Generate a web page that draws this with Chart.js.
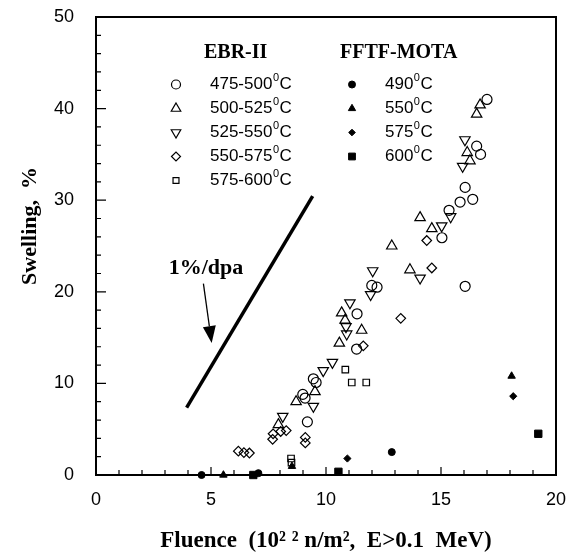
<!DOCTYPE html>
<html><head><meta charset="utf-8">
<script src="https://cdn.jsdelivr.net/npm/chart.js@4"></script>
<style>html,body{margin:0;padding:0;background:#fff}#wrap{width:577px;height:555px}</style>
</head><body><div id="wrap"><canvas id="c" width="577" height="555"></canvas></div>
<script>
// ---- data ----
const ebr475x = [17.0,16.55,16.72,16.05,15.83,16.38,15.35,15.04,16.05,11.99,12.22,11.35,11.33,9.45,9.57,8.99,9.09,9.19];
const ebr475y = [41.0,35.9,35.0,31.4,29.8,30.1,28.9,25.9,20.6,20.7,20.5,17.6,13.75,10.5,10.1,8.8,8.4,5.8];
const ebr500x = [16.7,16.55,16.14,16.26,14.09,14.6,12.86,13.65,10.68,10.83,11.55,10.58,9.52,8.7,7.93];
const ebr500y = [40.4,39.4,35.2,34.3,28.1,26.9,25.0,22.4,17.7,16.9,15.8,14.4,9.1,8.0,5.5];
const ebr525x = [16.04,15.94,15.42,15.03,14.09,12.03,11.94,11.04,10.87,10.9,10.28,9.88,9.45,8.12];
const ebr525y = [36.6,33.7,28.2,27.2,21.5,22.3,19.7,18.8,16.2,15.4,12.3,11.4,7.5,6.4];
const ebr550x = [14.38,14.6,13.25,11.62,7.7,7.68,8.03,8.27,9.1,9.1,6.19,6.43,6.67];
const ebr550y = [25.6,22.6,17.1,14.1,4.5,3.9,4.75,4.85,4.1,3.5,2.6,2.45,2.4];
const ebr575x = [10.84,11.12,11.75,8.48,8.5];
const ebr575y = [11.5,10.1,10.1,1.8,1.35];
const fftf490x = [4.59,7.06,12.86];
const fftf490y = [0,0.2,2.5];
const fftf550x = [5.54,8.52,18.07];
const fftf550y = [0,0.95,10.8];
const fftf575x = [10.93,18.14];
const fftf575y = [1.8,8.6];
const fftf600x = [6.84,10.54,19.23];
const fftf600y = [0,0.35,4.5];
const rateLineX = [3.94, 9.42];
const rateLineY = [7.35, 30.45];
const arrowX = [4.67, 5.03];
const arrowY = [20.9, 14.4];
const rateLabel = '1%/dpa';
const rateLabelX = 4.78, rateLabelY = 22.6;
const xTicks = [0,5,10,15,20];
const yTicks = [0,10,20,30,40,50];
const ebrTitle = 'EBR-II', fftfTitle = 'FFTF-MOTA';
const ebrLabels = [['475-500','C'],['500-525','C'],['525-550','C'],['550-575','C'],['575-600','C']];
const fftfLabels = [['490','C'],['550','C'],['575','C'],['600','C']];
const xTitle = 'Fluence  (10\u00B2 \u00B2 n/m\u00B2,  E>0.1  MeV)';
const yTitle = 'Swelling,  %';

const pts = (xs, ys) => xs.map((x, i) => ({x, y: ys[i]}));
const SANS = '"Liberation Sans", Arial, sans-serif';
const SERIF = '"Liberation Serif", "Times New Roman", serif';

function ds(label, xs, ys, style, r, filled, rot) {
  return {label, data: pts(xs, ys), pointStyle: style, pointRadius: r, pointRotation: rot || 0,
    borderColor: '#000', backgroundColor: filled ? '#000' : 'rgba(0,0,0,0)', borderWidth: filled ? 1 : 1.2,
    showLine: false, clip: false};
}

const legendMarks = [
  ['circle',4.5,false,0],['triangle',5.5,false,0],['triangle',5.5,false,180],['rectRot',4.5,false,0],['rect',4.2,false,0]
];
const legendMarksF = [['circle',3.5,true,0],['triangle',4.2,true,0],['rectRot',3.3,true,0],['rect',4.8,true,0]];

function drawPt(ctx, style, r, filled, rot, x, y) {
  ctx.save();
  ctx.strokeStyle = '#000'; ctx.fillStyle = filled ? '#000' : 'rgba(0,0,0,0)';
  ctx.lineWidth = filled ? 1 : 1.2;
  Chart.helpers.drawPoint(ctx, {pointStyle: style, radius: r, rotation: rot, borderWidth: ctx.lineWidth}, x, y);
  ctx.restore();
}
function tempText(ctx, x, y, main, tail) {
  ctx.font = '17px ' + SANS; ctx.textBaseline = 'middle'; ctx.textAlign = 'left'; ctx.fillStyle = '#000';
  ctx.fillText(main, x, y);
  let w = ctx.measureText(main).width;
  ctx.font = '11px ' + SANS;
  ctx.fillText('0', x + w + 0.5, y - 7);
  let w2 = ctx.measureText('0').width;
  ctx.font = '17px ' + SANS;
  ctx.fillText(tail, x + w + w2 + 1, y);
}

const deco = {
  id: 'deco',
  afterDraw(chart) {
    const {ctx, chartArea: a, scales: {x, y}} = chart;
    ctx.save();
    // frame
    ctx.strokeStyle = '#000'; ctx.lineWidth = 2;
    ctx.strokeRect(a.left, a.top, a.right - a.left, a.bottom - a.top);
    // inward ticks
    ctx.lineWidth = 1.2;
    ctx.beginPath();
    for (let v = 1; v < 20; v++) {
      const px = x.getPixelForValue(v), L = v % 5 === 0 ? 8 : 5;
      ctx.moveTo(px, a.bottom); ctx.lineTo(px, a.bottom - L);
    }
    for (let v = 2; v < 50; v += 2) {
      const py = y.getPixelForValue(v), L = v % 10 === 0 ? 10 : 5;
      ctx.moveTo(a.left, py); ctx.lineTo(a.left + L, py);
    }
    ctx.stroke();
    // arrow
    const ax0 = x.getPixelForValue(arrowX[0]), ay0 = y.getPixelForValue(arrowY[0]);
    const ax1 = x.getPixelForValue(arrowX[1]), ay1 = y.getPixelForValue(arrowY[1]);
    const ang = Math.atan2(ay1 - ay0, ax1 - ax0);
    const hl = 17, hw = 6.5;
    const bx = ax1 - Math.cos(ang) * hl, by = ay1 - Math.sin(ang) * hl;
    ctx.lineWidth = 1.3;
    ctx.beginPath(); ctx.moveTo(ax0, ay0); ctx.lineTo(bx, by); ctx.stroke();
    ctx.fillStyle = '#000';
    ctx.beginPath();
    ctx.moveTo(ax1, ay1);
    ctx.lineTo(bx - Math.sin(ang) * hw, by + Math.cos(ang) * hw);
    ctx.lineTo(bx + Math.sin(ang) * hw, by - Math.cos(ang) * hw);
    ctx.closePath(); ctx.fill();
    // rate label
    ctx.font = 'bold 22px ' + SERIF; ctx.textAlign = 'center'; ctx.textBaseline = 'middle';
    ctx.fillText(rateLabel, x.getPixelForValue(rateLabelX), y.getPixelForValue(rateLabelY));
    // legend
    ctx.font = 'bold 20px ' + SERIF; ctx.textAlign = 'left'; ctx.textBaseline = 'middle';
    ctx.fillText(ebrTitle, 204, 53);
    ctx.fillText(fftfTitle, 340, 53);
    const rows = [84.5, 108.5, 132.5, 156.5, 180.5];
    ebrLabels.forEach((l, i) => {
      const m = legendMarks[i];
      drawPt(ctx, m[0], m[1], m[2], m[3], 176, rows[i]);
      tempText(ctx, 210, rows[i], l[0], l[1]);
    });
    fftfLabels.forEach((l, i) => {
      const m = legendMarksF[i];
      drawPt(ctx, m[0], m[1], m[2], m[3], 352, rows[i]);
      tempText(ctx, 385, rows[i], l[0], l[1]);
    });
    // y title
    ctx.save();
    ctx.translate(30, 226); ctx.rotate(-Math.PI / 2);
    ctx.font = 'bold 22px ' + SERIF; ctx.textAlign = 'center'; ctx.textBaseline = 'middle';
    ctx.fillText(yTitle, 0, 0);
    ctx.restore();
    ctx.restore();
  }
};

new Chart(document.getElementById('c'), {
  type: 'scatter',
  data: {
    datasets: [
      ds('475-500°C', ebr475x, ebr475y, 'circle', 5, false),
      ds('500-525°C', ebr500x, ebr500y, 'triangle', 6, false),
      ds('525-550°C', ebr525x, ebr525y, 'triangle', 6, false, 180),
      ds('550-575°C', ebr550x, ebr550y, 'rectRot', 4.8, false),
      ds('575-600°C', ebr575x, ebr575y, 'rect', 4.6, false),
      ds('490°C', fftf490x, fftf490y, 'circle', 3.5, true),
      ds('550°C', fftf550x, fftf550y, 'triangle', 4.3, true),
      ds('575°C', fftf575x, fftf575y, 'rectRot', 3.6, true),
      ds('600°C', fftf600x, fftf600y, 'rect', 5.2, true),
      {label: '1%/dpa', type: 'line', data: pts(rateLineX, rateLineY), borderColor: '#000', borderWidth: 3.5,
       pointRadius: 0, showLine: true, fill: false, clip: false, borderCapStyle: 'butt'}
    ]
  },
  options: {
    responsive: false, animation: false, devicePixelRatio: 1, events: [],
    layout: {padding: {top: 17, right: 21, left: 0, bottom: 0}},
    plugins: {legend: {display: false}, tooltip: {enabled: false}},
    scales: {
      x: {type: 'linear', min: 0, max: 20,
        afterBuildTicks: s => { s.ticks = xTicks.map(v => ({value: v})); },
        afterFit: s => { s.height = 80; s.paddingLeft = 0; s.paddingRight = 0; },
        ticks: {color: '#000', font: {family: SANS, size: 18}, padding: 6, maxRotation: 0},
        grid: {display: false}, border: {display: false},
        title: {display: true, text: xTitle, color: '#000', font: {family: SERIF, size: 23, weight: 'bold'}, padding: {top: 0, bottom: 0}}
      },
      y: {type: 'linear', min: 0, max: 50,
        afterBuildTicks: s => { s.ticks = yTicks.map(v => ({value: v})); },
        afterFit: s => { s.width = 96; s.paddingTop = 0; s.paddingBottom = 0; },
        ticks: {color: '#000', font: {family: SANS, size: 18}, padding: 14},
        grid: {display: false}, border: {display: false}
      }
    }
  },
  plugins: [deco]
});
</script></body></html>
